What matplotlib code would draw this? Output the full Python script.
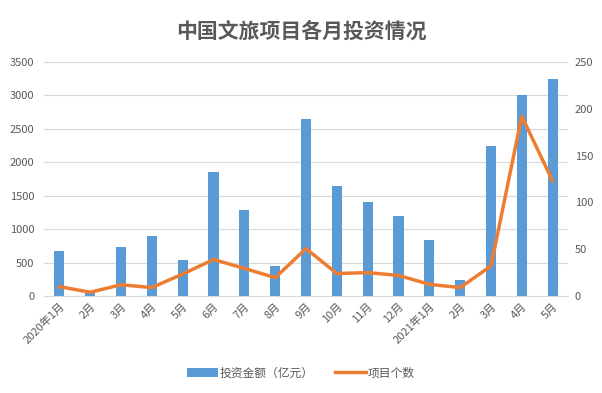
import matplotlib
matplotlib.use("Agg")
import matplotlib.pyplot as plt
import numpy as np

plt.rcParams['font.family'] = ['Noto Sans CJK SC', 'DejaVu Sans']

categories = ["2020年1月", "2月", "3月", "4月", "5月", "6月", "7月", "8月", "9月",
              "10月", "11月", "12月", "2021年1月", "2月", "3月", "4月", "5月"]
investment = [680, 60, 730, 890, 545, 1850, 1280, 450, 2640,
              1640, 1410, 1200, 840, 240, 2250, 3000, 3240]
projects = [10, 4, 12, 9, 23.5, 39, 29.5, 19.6, 50.6,
            24, 25, 22, 12.5, 9, 32, 192, 123]
left_ticks = [0, 500, 1000, 1500, 2000, 2500, 3000, 3500]
right_ticks = [0, 50, 100, 150, 200, 250]

blue = "#5B9BD5"
orange = "#ED7D31"
grey = "#595959"

fig = plt.figure(figsize=(6.02, 3.93), dpi=100)
ax = fig.add_axes([44/602, 1-296/393, (568-44)/602, (296-62)/393])
x = np.arange(len(categories))
ax.bar(x, investment, width=0.33, color=blue, label="投资金额（亿元）", zorder=2)
ax.set_xlim(-0.5, len(categories)-0.5)
ax.set_ylim(0, 3500)
ax.set_yticks(left_ticks)
ax.grid(axis='y', color="#D9D9D9", linewidth=0.8, zorder=0)
ax.set_axisbelow(True)
for s in ['top', 'right', 'left']:
    ax.spines[s].set_visible(False)
ax.spines['bottom'].set_color("#D9D9D9")
ax.tick_params(axis='both', length=0, colors=grey, labelsize=8)
ax.tick_params(axis='y', pad=7)
ax.set_xticks(x)
ax.set_xticklabels(categories, rotation=45, ha='right', rotation_mode='anchor')

ax2 = ax.twinx()
ax2.plot(x, projects, color=orange, linewidth=2.5, label="项目个数", zorder=3)
ax2.set_ylim(0, 250)
ax2.set_yticks(right_ticks)
for s in ['top', 'right', 'left', 'bottom']:
    ax2.spines[s].set_visible(False)
ax2.tick_params(axis='y', length=0, colors=grey, labelsize=8, pad=5)

fig.text(0.5, 1-31/393, "中国文旅项目各月投资情况", ha='center', va='center',
         fontsize=15, fontweight='bold', color=grey)

h1, l1 = ax.get_legend_handles_labels()
h2, l2 = ax2.get_legend_handles_labels()
fig.legend(h1 + h2, l1 + l2, loc='center', bbox_to_anchor=(0.5, 1-373/393), ncol=2,
           frameon=False, fontsize=8.5, labelcolor=grey, handlelength=2.6,
           columnspacing=1.8, handletextpad=0.15)

fig.savefig("out.png", dpi=100)
